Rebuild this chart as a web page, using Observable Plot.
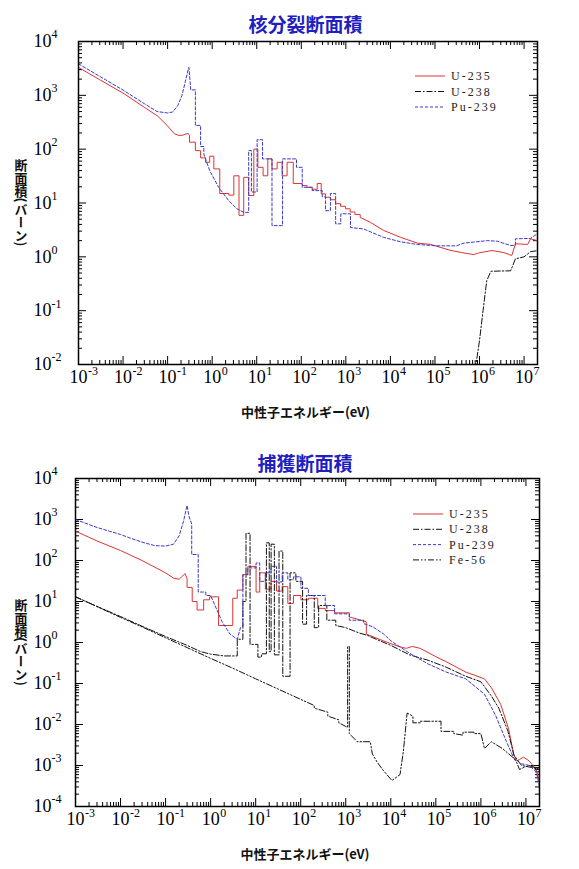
<!DOCTYPE html>
<html><head><meta charset="utf-8">
<script src="https://cdn.jsdelivr.net/npm/d3@7"></script>
<script src="https://cdn.jsdelivr.net/npm/@observablehq/plot@0.6"></script>
<style>body{margin:0;background:#fff} svg{display:block}</style>
</head><body><div id="chart"></div>
<script>
// ---------- tick labels ----------
const xTickValues = [1e-3,1e-2,1e-1,1,10,100,1e3,1e4,1e5,1e6,1e7];
const xTickExp = ["-3","-2","-1","0","1","2","3","4","5","6","7"];
const yTickValuesTop = [1e-2,1e-1,1,10,100,1e3,1e4];
const yTickExpTop = ["-2","-1","0","1","2","3","4"];
const yTickValuesBottom = [1e-4,1e-3,1e-2,1e-1,1,10,100,1e3,1e4];
const yTickExpBottom = ["-4","-3","-2","-1","0","1","2","3","4"];

// ---------- fission cross sections [energy eV, barn] ----------
const u235Fission = [[1e-3,3300],[3e-3,1950],[1e-2,1100],[3e-2,600],[0.06,410],[0.1,270],[0.14,195],[0.18,180],[0.22,182],[0.26,192],[0.29,196],[0.31,180],
[0.31,135],[0.42,135],[0.42,94],[0.55,94],[0.55,69],[0.71,69],[0.71,57],[0.88,57],[0.88,74],[1.09,74],[1.09,43],[1.48,43],[1.48,15],[2.36,15],[2.36,14],[3.06,14],[3.06,32],[4.0,32],[4.0,5.9],[5.1,5.9],[5.1,30],[6.6,30],[6.6,13.8],[8.6,13.8],[8.6,100],[10.6,100],[10.6,46],[13.9,46],[13.9,32],[17.7,32],[17.7,66],[22,66],[22,43],[28.7,43],[28.7,57],[37,57],[37,32],[48,32],[48,57],[66,57],[66,23],[105,23],[105,21],[135,21],[135,19.5],[176,19.5],[176,18],[228,18],[228,23],[280,23],[280,14.8],[348,14.8],[348,12.8],[450,12.8],[450,11.5],[590,11.5],[590,9.7],[760,9.7],[760,8.7],[980,8.7],[980,7.8],[1250,7.8],[1250,6.8],[1600,6.8],[1600,6.1],[2100,6.1],[2100,5.4],[3500,4.4],[7000,3.1],[1.7e4,2.3],[4e4,1.8],[8e4,1.7],[2.2e5,1.32],[4e5,1.2],[7.4e5,1.1],[9.5e5,1.18],[1.9e6,1.31],[3.5e6,1.2],[5.3e6,1.06],[6.4e6,1.75],[1.2e7,1.7],[1.4e7,2.16],[2e7,2.0]];
const u238Fission = [[8e5,0.008],[1e6,0.028],[1.2e6,0.1],[1.45e6,0.36],[1.8e6,0.54],[5e6,0.55],[6.4e6,0.92],[1e7,1.0],[1.4e7,1.25],[2e7,1.3]];
const pu239Fission = [[1e-3,3850],[3e-3,2250],[1e-2,1250],[3e-2,700],[0.058,500],[0.1,470],[0.13,490],[0.17,650],[0.21,1000],[0.25,1800],[0.28,2700],[0.3,3300],[0.32,1800],[0.33,1260],[0.42,1260],[0.42,276],[0.55,276],[0.55,112],[0.65,112],[0.65,81],[0.88,40],[1.4,19.5],[2.36,11],[3.6,7.8],[5.1,6.7],[6.6,6.7],[6.6,94],[7.6,94],[7.6,16],[10.2,16],[10.2,150],[13.5,150],[13.5,66],[22,66],[22,3.8],[38,3.8],[38,66],[78,66],[78,46],[105,46],[105,19.6],[176,19.6],[176,17],[295,17],[295,13],[350,13],[350,7.2],[450,7.2],[450,15],[590,15],[590,4.1],[770,4.1],[770,6.3],[1270,6.3],[1270,3.5],[2500,3.3],[7000,2.3],[1.7e4,1.9],[4e4,1.7],[1.1e5,1.6],[3e5,1.6],[4.5e5,1.8],[1.5e6,2.0],[2.5e6,1.95],[5e6,1.62],[6.4e6,1.65],[6.4e6,2.16],[1.4e7,2.2],[2e7,2.7]];

// ---------- capture cross sections [energy eV, barn] ----------
const u235Capture = [[1e-3,520],[3e-3,300],[1e-2,175],[3e-2,100],[0.1,50],[0.15,37],[0.2,35],[0.24,42],[0.27,48],[0.3,36],[0.3,22],[0.39,22],[0.39,10],[0.5,10],[0.5,6.2],[0.7,6.2],[0.7,11],[0.95,11],[0.95,13],[1.5,13],[1.5,2.6],[3.1,2.6],[3.1,12],[3.9,12],[3.9,19],[5.2,19],[5.2,45],[6.7,45],[6.7,72],[10.2,72],[10.2,17],[12.3,17],[12.3,50],[16.4,50],[16.4,20],[21.9,20],[21.9,31],[29,31],[29,18],[38.8,18],[38.8,23],[51.7,23],[51.7,9],[69,9],[69,14],[101,14],[101,11],[148,11],[148,12],[239,12],[239,6.8],[350,6.8],[350,6],[565,6],[565,5.3],[1200,5.3],[1200,4.2],[2000,3.6],[2860,3.2],[2860,1.6],[6800,1.1],[1.5e4,0.8],[2.2e4,0.72],[3e4,0.8],[4.5e4,0.72],[1e5,0.45],[1.7e5,0.34],[4.6e5,0.19],[1.2e6,0.13],[1.7e6,0.08],[2.75e6,0.031],[4.1e6,0.008],[5.4e6,0.0018],[6.3e6,0.0013],[7.2e6,0.0014],[8.8e6,0.0016],[1.17e7,0.0013],[1.7e7,0.0008],[2e7,0.0004]];
const u238Capture = [[1e-3,13],[3e-3,7.6],[1e-2,4.3],[3e-2,2.5],[0.1,1.4],[0.3,0.85],[0.6,0.6],[1,0.52],[2,0.47],[3.9,0.47],[3.9,1.2],[5.2,1.2],[5.2,10],[6.1,10],[6.1,460],[7.5,460],[7.5,0.9],[11.2,0.9],[11.2,0.44],[13.5,0.44],[13.5,0.53],[17.3,0.53],[17.3,270],[20,270],[20,0.6],[22,0.6],[22,250],[26,250],[26,0.5],[33,0.5],[33,170],[40,170],[40,0.15],[58,0.15],[58,50],[78,50],[78,31],[110,31],[110,2.8],[135,2.8],[135,14],[200,14],[200,2.3],[250,2.3],[250,8],[380,8],[380,3.5],[600,3.5],[600,2.6],[1000,2.3],[2000,1.7],[3000,1.5],[4000,1.3],[1e4,0.85],[2.6e4,0.5],[6.7e4,0.37],[1.7e5,0.25],[4.6e5,0.15],[1e6,0.11],[1.7e6,0.05],[2.5e6,0.025],[4e6,0.0068],[5.4e6,0.0018],[8e6,0.001],[1.3e7,0.0009],[2e7,0.0008]];
const pu239Capture = [[1e-3,1000],[3e-3,640],[1e-2,430],[1.55e-2,360],[3e-2,280],[0.058,230],[0.1,225],[0.15,250],[0.2,400],[0.25,900],[0.28,1600],[0.3,2200],[0.33,1200],[0.38,770],[0.38,140],[0.53,140],[0.53,17],[0.78,17],[0.78,14],[1.0,14],[1.8,3.2],[2.7,1.6],[3.9,1.2],[4.6,2.3],[5.2,2.5],[5.2,45],[6.7,45],[6.7,66],[10.2,66],[10.2,87],[12.3,87],[12.3,31],[16.4,31],[16.4,50],[21.9,50],[21.9,72],[29,72],[29,30],[38.8,30],[38.8,50],[51.7,50],[51.7,34],[69,34],[69,40],[101,40],[101,21],[148,21],[148,14],[350,14],[350,8],[565,8],[565,5],[1200,5],[1200,3.5],[2500,3.5],[2500,2.9],[4000,2.4],[7000,1.6],[1e4,1.1],[2.6e4,0.55],[6.7e4,0.3],[1.7e5,0.19],[4.6e5,0.13],[1.2e6,0.055],[2.1e6,0.017],[3.7e6,0.0038],[5.4e6,0.0015],[7.9e6,0.0011],[1.2e7,0.001],[1.7e7,0.0007],[2e7,0.0003]];
const fe56Capture = [[1e-3,13],[3e-3,7.5],[1e-2,4.1],[3e-2,2.4],[0.1,1.3],[0.3,0.75],[1,0.41],[3,0.24],[10,0.13],[30,0.075],[100,0.041],[200,0.029],[200,0.025],[400,0.02],[400,0.016],[700,0.013],[700,0.011],[1100,0.0085],[1100,0.8],[1200,0.8],[1200,0.006],[1800,0.0038],[3500,0.0038],[3900,0.0019],[5000,0.0012],[6800,0.00076],[1.06e4,0.00043],[1.6e4,0.0006],[1.9e4,0.0022],[2.3e4,0.019],[3.1e4,0.016],[3.1e4,0.011],[4.5e4,0.011],[4.5e4,0.012],[1.3e5,0.012],[1.3e5,0.0068],[2.5e5,0.0068],[2.5e5,0.006],[4e5,0.0055],[4e5,0.0065],[7e5,0.0065],[7e5,0.006],[1e6,0.006],[1.2e6,0.0026],[1.7e6,0.0038],[3e6,0.0026],[5.4e6,0.0015],[6.2e6,0.0012],[7.2e6,0.0008],[9e6,0.0009],[1.2e7,0.001],[2e7,0.0008]];

// ---------- styles ----------
const serif = "'Liberation Serif','DejaVu Serif',serif";
const cjk = "'Noto Sans CJK JP','Noto Sans',sans-serif";
const styles = {
  "U-235": {stroke: "#dd3333", strokeDasharray: null},
  "U-238": {stroke: "#111111", strokeDasharray: "6,2,1.5,2"},
  "Pu-239": {stroke: "#3a3ac8", strokeDasharray: "3,2"},
  "Fe-56": {stroke: "#111111", strokeDasharray: "6,2,1.5,2,1.5,2"}
};

function minorTicks(lo, hi) {
  const out = [];
  for (let e = Math.floor(Math.log10(lo)); e <= Math.ceil(Math.log10(hi)); e++)
    for (let m = 2; m <= 9; m++) { const v = m * Math.pow(10, e); if (v > lo && v < hi * 0.95) out.push(v); }
  return out;
}

function panel(cfg) {
  const width = 579;
  const H = cfg.height - cfg.mt - cfg.mb;
  const W = width - cfg.ml - cfg.mr;
  const xDomain = [1e-3, 2e7];
  const xMinor = minorTicks(xDomain[0], xDomain[1]);
  const yMinor = minorTicks(cfg.yDomain[0], cfg.yDomain[1]);
  const xLab = xTickValues.map((v, i) => ({v, e: xTickExp[i]}));
  const yLab = cfg.yTicks.map((v, i) => ({v, e: cfg.yExp[i]}));
  const tickStyle = {stroke: "black", strokeWidth: 1};
  const marks = [
    Plot.tickX(xTickValues, {x: d => d, insetTop: H - 8, ...tickStyle}),
    Plot.tickX(xMinor, {x: d => d, insetTop: H - 4, ...tickStyle}),
    Plot.tickX(xTickValues, {x: d => d, insetBottom: H - 8, ...tickStyle}),
    Plot.tickX(xMinor, {x: d => d, insetBottom: H - 4, ...tickStyle}),
    Plot.tickY(cfg.yTicks, {y: d => d, insetRight: W - 8, ...tickStyle}),
    Plot.tickY(yMinor, {y: d => d, insetRight: W - 4, ...tickStyle}),
    Plot.tickY(cfg.yTicks, {y: d => d, insetLeft: W - 8, ...tickStyle}),
    Plot.tickY(yMinor, {y: d => d, insetLeft: W - 4, ...tickStyle}),
    ...cfg.series.map(s => Plot.line(s.data, {x: d => d[0], y: d => d[1], stroke: styles[s.name].stroke, strokeDasharray: styles[s.name].strokeDasharray, strokeWidth: 1, clip: true})),
    Plot.frame({stroke: "black", strokeWidth: 1.5}),
    Plot.text(xLab, {x: "v", text: () => "10", frameAnchor: "bottom", dy: 18.5, fontSize: 18, fontFamily: serif, fill: "black"}),
    Plot.text(xLab, {x: "v", text: "e", frameAnchor: "bottom", dy: 10, dx: 9.5, textAnchor: "start", fontSize: 12, fontFamily: serif, fill: "black"}),
    Plot.text(yLab, {y: "v", text: () => "10", frameAnchor: "left", dx: 33 - cfg.ml, textAnchor: "start", fontSize: 18, fontFamily: serif, fill: "black"}),
    Plot.text(yLab, {y: "v", text: "e", frameAnchor: "left", dx: 51 - cfg.ml, dy: -7, textAnchor: "start", fontSize: 12, fontFamily: serif, fill: "black"})
  ];
  const svg = Plot.plot({
    width, height: cfg.height,
    marginTop: cfg.mt, marginBottom: cfg.mb, marginLeft: cfg.ml, marginRight: cfg.mr,
    style: {background: "white", overflow: "visible"},
    x: {type: "log", domain: xDomain, axis: null},
    y: {type: "log", domain: cfg.yDomain, axis: null},
    marks
  });
  const s = d3.select(svg);
  const cx = cfg.ml + W / 2;
  s.append("text").attr("x", cx - 2).attr("y", cfg.titleY).attr("text-anchor", "middle").attr("dominant-baseline", "central")
    .attr("font-family", cjk).attr("font-weight", "bold").attr("font-size", 19).attr("fill", "#2020c0").text(cfg.title);
  s.append("text").attr("x", cx - 2).attr("y", cfg.height - cfg.mb + 47).attr("text-anchor", "middle").attr("dominant-baseline", "central")
    .attr("font-family", cjk).attr("font-weight", "bold").attr("font-size", 13).attr("fill", "#111").text("中性子エネルギー(eV)");
  s.append("text").attr("x", 21).attr("y", cfg.mt + H / 2).attr("text-anchor", "middle")
    .attr("style", "writing-mode: vertical-rl")
    .attr("font-family", cjk).attr("font-weight", "bold").attr("font-size", 13).attr("fill", "#111").text("断面積(バーン)");
  const lg = s.append("g");
  cfg.series.forEach((ser, i) => {
    const y = cfg.legendY + i * cfg.legendStep;
    const st = styles[ser.name];
    lg.append("line").attr("x1", cfg.legendX).attr("x2", cfg.legendX + 30).attr("y1", y).attr("y2", y)
      .attr("stroke", st.stroke).attr("stroke-width", 1).attr("stroke-dasharray", st.strokeDasharray);
    lg.append("text").attr("x", cfg.legendX + 36).attr("y", y).attr("dominant-baseline", "central").attr("text-anchor", "start")
      .attr("font-family", serif).attr("font-size", 12).attr("letter-spacing", 2).attr("fill", "#222").text(ser.name);
  });
  return svg;
}

const root = document.getElementById("chart");
root.appendChild(panel({
  height: 440, mt: 41, mb: 76, ml: 78, mr: 42,
  yDomain: [1e-2, 1e4], yTicks: yTickValuesTop, yExp: yTickExpTop,
  title: "核分裂断面積", titleY: 23,
  legendX: 415, legendY: 76, legendStep: 15.5,
  series: [{name: "U-235", data: u235Fission}, {name: "U-238", data: u238Fission}, {name: "Pu-239", data: pu239Fission}]
}));
root.appendChild(panel({
  height: 429, mt: 38, mb: 63, ml: 75, mr: 40,
  yDomain: [1e-4, 1e4], yTicks: yTickValuesBottom, yExp: yTickExpBottom,
  title: "捕獲断面積", titleY: 22,
  legendX: 413, legendY: 74, legendStep: 15.3,
  series: [{name: "U-235", data: u235Capture}, {name: "U-238", data: u238Capture}, {name: "Pu-239", data: pu239Capture}, {name: "Fe-56", data: fe56Capture}]
}));
</script></body></html>
